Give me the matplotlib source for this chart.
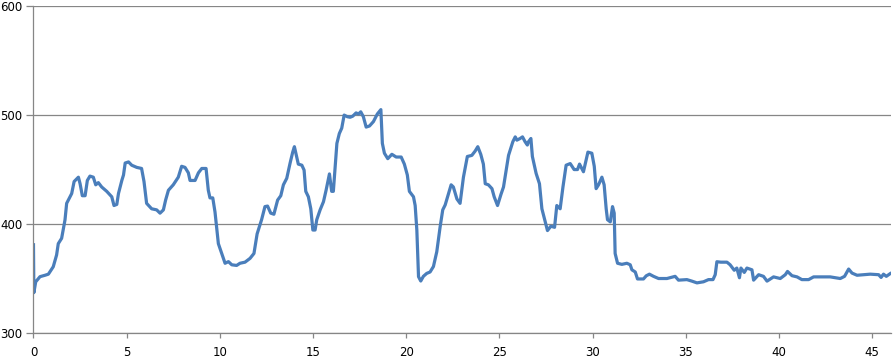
import numpy as np
import matplotlib.pyplot as plt

# ----------------------------
# Data
# ----------------------------
x = [0.0, 0.02, 0.12, 0.35, 0.62, 0.8, 1.06, 1.24, 1.33, 1.51, 1.69, 1.78, 2.05, 2.18,
     2.41, 2.5, 2.62, 2.77, 2.89, 3.03, 3.21, 3.34, 3.48, 3.66, 3.93, 4.2, 4.32, 4.47,
     4.56, 4.74, 4.83, 4.92, 5.1, 5.27, 5.54, 5.8, 5.93, 6.07, 6.34, 6.61, 6.79, 6.97,
     7.09, 7.24, 7.5, 7.77, 7.95, 8.13, 8.31, 8.4, 8.67, 8.85, 9.03, 9.26, 9.38, 9.47,
     9.62, 9.74, 9.92, 10.1, 10.28, 10.46, 10.64, 10.9, 11.08, 11.35, 11.62, 11.83,
     12.0, 12.24, 12.42, 12.56, 12.73, 12.9, 13.1, 13.27, 13.41, 13.59, 13.77, 13.91,
     14.0, 14.13, 14.21, 14.4, 14.52, 14.61, 14.75, 14.88, 14.99, 15.11, 15.2, 15.38,
     15.56, 15.7, 15.88, 16.0, 16.09, 16.28, 16.41, 16.54, 16.67, 16.84, 16.99, 17.13,
     17.31, 17.44, 17.56, 17.7, 17.85, 18.03, 18.24, 18.45, 18.64, 18.72, 18.83, 19.01,
     19.23, 19.46, 19.73, 19.9, 20.06, 20.17, 20.39, 20.48, 20.57, 20.66, 20.78, 20.92,
     21.1, 21.28, 21.46, 21.64, 21.82, 21.96, 22.09, 22.27, 22.41, 22.53, 22.72, 22.89,
     23.07, 23.28, 23.52, 23.7, 23.84, 24.0, 24.14, 24.24, 24.41, 24.6, 24.72, 24.9,
     25.08, 25.22, 25.49, 25.72, 25.85, 25.94, 26.11, 26.24, 26.38, 26.5, 26.56, 26.69,
     26.77, 26.97, 27.15, 27.28, 27.46, 27.58, 27.76, 27.96, 28.08, 28.26, 28.41, 28.58,
     28.8, 29.01, 29.19, 29.3, 29.51, 29.75, 29.96, 30.09, 30.19, 30.32, 30.5, 30.62,
     30.73, 30.8, 30.95, 31.07, 31.16, 31.21, 31.34, 31.57, 31.84, 32.02, 32.11, 32.29,
     32.41, 32.73, 32.88, 33.05, 33.27, 33.54, 33.99, 34.43, 34.61, 35.06, 35.33, 35.6,
     35.95, 36.22, 36.46, 36.58, 36.67, 36.88, 37.21, 37.38, 37.6, 37.74, 37.88, 37.96,
     38.14, 38.28, 38.55, 38.64, 38.91, 39.17, 39.36, 39.71, 40.07, 40.34, 40.46, 40.7,
     40.97, 41.23, 41.59, 41.86, 42.22, 42.75, 43.29, 43.52, 43.74, 43.92, 44.19, 44.54,
     44.9, 45.35, 45.48, 45.61, 45.76, 45.97]

y = [381, 337, 347, 351.7, 353, 354, 360.8, 371.6, 382, 386.9, 403.7, 419, 428, 439,
     443, 437, 426, 426, 440, 444, 443, 436, 438, 434, 430, 425, 417, 418,
     428, 440, 445, 456, 457, 454, 452, 451, 439, 419, 414, 413, 410, 413,
     422, 431, 436, 443, 453, 452, 447, 440, 440, 447, 451, 451, 431, 424,
     424, 411, 382, 373, 364, 365.5, 362.6, 362, 364, 365, 368.5, 373,
     391, 404, 416, 416.5, 410, 409, 422, 426, 436, 442, 456, 466,
     471, 461, 455, 454, 449.5, 430, 425, 414, 394.5, 394.5, 404, 413,
     420.5, 431, 446, 430, 430, 474, 483, 488, 500, 498.5, 498, 499,
     502, 501, 503, 498.5, 489, 490, 494, 501, 505, 474, 465, 460,
     464, 461.5, 461.5, 455, 445, 430, 425, 417, 394.5, 351.7, 347.7, 352,
     354.7, 356, 361, 374.6, 397.5, 413, 417.5, 428, 436, 434, 423, 419,
     443, 462, 463, 467, 471, 464, 455, 437, 436, 432.5, 425, 417,
     427, 434, 463, 475.5, 480, 477, 478.5, 480, 475.5, 472.5, 475.5, 478.5,
     462, 446.5, 437, 414, 402, 394, 398, 397, 417, 414, 434, 454,
     455.5, 450, 450, 455, 448, 466, 465, 453, 432.5, 436, 443, 436,
     414, 404, 402, 416, 410, 373, 364, 363, 364, 362.6, 358, 356,
     349.6, 349.6, 352.5, 354, 352, 350, 350, 352, 348.5, 349, 347.6, 346,
     347, 349, 349, 353.5, 365.4, 365, 365, 362.6, 357.6, 359.6, 350.7, 359.6,
     355.6, 359.6, 358, 348.5, 353.5, 352, 347.6, 351.5, 350, 353.5, 356.5, 352.6,
     351.5, 349, 349, 351.5, 351.5, 351.5, 350, 352, 358.7, 355, 353, 353.5,
     354, 353.5, 351, 354, 352, 354.5]

xticks = [0, 5, 10, 15, 20, 25, 30, 35, 40, 45]
yticks = [300, 400, 500, 600]

# ----------------------------
# Plot
# ----------------------------
fig = plt.figure(figsize=(8.93, 3.6), dpi=100)
ax = fig.add_axes([0.0375, 0.075, 0.96, 0.908])

ax.plot(x, y, color='#4A7EBB', linewidth=2.3, solid_joinstyle='round')

ax.set_xlim(0, 46)
ax.set_ylim(300, 600)
ax.set_xticks(xticks)
ax.set_yticks(yticks)

ax.yaxis.grid(True, color='#868686', linewidth=0.9)
ax.set_axisbelow(True)

for side in ['top', 'right']:
    ax.spines[side].set_visible(False)
for side in ['left', 'bottom']:
    ax.spines[side].set_color('#868686')
    ax.spines[side].set_linewidth(0.9)

ax.tick_params(axis='y', colors='#868686', length=5, width=0.9,
               labelsize=8.5, labelcolor='black', pad=3)
ax.tick_params(axis='x', colors='#868686', length=3.5, width=0.9,
               labelsize=8.5, labelcolor='black', pad=6)

fig.savefig('out.png', dpi=100)
